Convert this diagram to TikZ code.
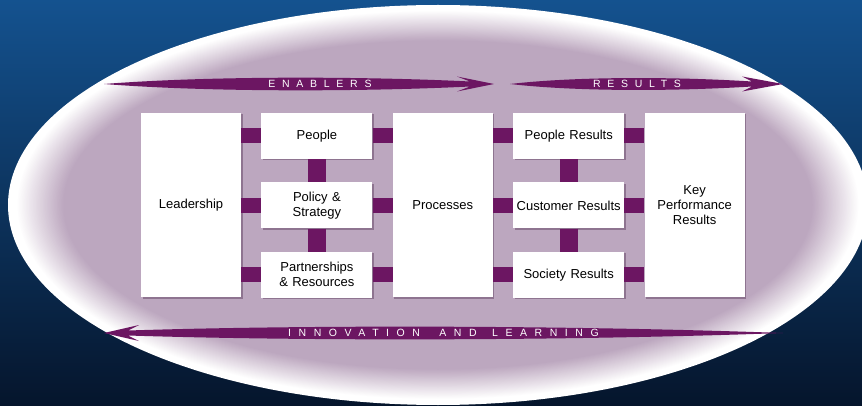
\documentclass[tikz,border=0pt]{standalone}
\usepackage{fontspec}
\setmainfont{Liberation Sans}
\newfontfamily\bandfont[LetterSpace=64]{Liberation Sans}
\newfontfamily\widebandfont[LetterSpace=72]{Liberation Sans}
\usetikzlibrary{positioning,shadows}
\definecolor{ovalpurple}{HTML}{BCA7BF}
\definecolor{bandpurple}{HTML}{6C1662}
\definecolor{topblue}{HTML}{14528F}
\definecolor{bottomblue}{HTML}{05152C}
\definecolor{shadowpurple}{HTML}{8E7490}

\begin{document}
\begin{tikzpicture}[x=1pt,y=-1pt,
    box/.style={fill=white,inner sep=1pt,align=center,font=\fontsize{13}{15}\selectfont,
        drop shadow={shadow xshift=1.5pt,shadow yshift=-1.5pt,fill=shadowpurple,opacity=1}},
    tallbox/.style={box,minimum height=184pt,text width=98pt},
    smallbox/.style={box,minimum height=46pt,text width=109pt},
    bar/.style={draw=bandpurple,line width=15pt},
    vbar/.style={draw=bandpurple,line width=18pt},
    bandtext/.style={text=white,font=\bandfont\fontsize{10.5}{10.5}\selectfont,inner sep=0pt},
    widebandtext/.style={bandtext,font=\widebandfont\fontsize{10.5}{10.5}\selectfont}]

    % background and glowing oval
    \useasboundingbox (0,0) rectangle (862,406);
    \shade[top color=topblue,bottom color=bottomblue] (0,0) rectangle (862,406);
    \foreach \k in {0,...,40} {
        \pgfmathtruncatemacro\p{max(0,min(100,3*(\k-6)))}
        \fill[ovalpurple!\p!white] (438,205) ellipse [x radius=430-1.4*\k, y radius=200-0.9*\k];
    }

    % boxes
    \node[tallbox] (lead) at (191,205) {Leadership};
    \node[smallbox,right=20pt of lead.north east,anchor=north west] (ppl) {People};
    \node[smallbox,below=23pt of ppl] (pol) {Policy \&\\ Strategy};
    \node[smallbox,below=23pt of pol] (part) {Partnerships\\ \& Resources};
    \node[tallbox,right=20pt of ppl.north east,anchor=north west] (proc) {Processes};
    \node[smallbox,right=20pt of proc.north east,anchor=north west] (pres) {People Results};
    \node[smallbox,below=23pt of pres] (cres) {Customer Results};
    \node[smallbox,below=23pt of cres] (sres) {Society Results};
    \node[tallbox,right=20pt of pres.north east,anchor=north west] (kpr) {Key\\ Performance\\ Results};

    % purple links
    \foreach \n in {ppl,pol,part} {
        \draw[bar] (lead.east |- \n.west) -- (\n.west);
        \draw[bar] (\n.east) -- (\n.east -| proc.west);
    }
    \foreach \n in {pres,cres,sres} {
        \draw[bar] (proc.east |- \n.west) -- (\n.west);
        \draw[bar] (\n.east) -- (\n.east -| kpr.west);
    }
    \draw[vbar] (ppl.south) -- (pol.north);
    \draw[vbar] (pol.south) -- (part.north);
    \draw[vbar] (pres.south) -- (cres.north);
    \draw[vbar] (cres.south) -- (sres.north);

    % band arrows
    \fill[bandpurple] (104,84) .. controls (220,75) and (380,77) .. (470,81.5) -- (457,76.5) -- (494,84)
        -- (457,91.5) -- (470,86.5) .. controls (380,91) and (220,93) .. (104,84) -- cycle;
    \fill[bandpurple] (510,84) .. controls (580,76) and (680,77) .. (752,81.5) -- (742,76.5) -- (783,84)
        -- (742,91.5) -- (752,86.5) .. controls (680,91) and (580,92) .. (510,84) -- cycle;
    \fill[bandpurple] (104,333) -- (139,325) -- (128,330.5) .. controls (300,325) and (560,325) .. (783,333)
        .. controls (560,341) and (300,341) .. (128,335.5) -- (139,341) -- cycle;

    \node[bandtext] (enab) at (320,84) {ENABLERS};
    \node[bandtext] (res) at (637,84) {RESULTS};
    \node[widebandtext,anchor=west] (inno) at (288,333) {INNOVATION};
    \node[widebandtext,right=19pt of inno] (and) {AND};
    \node[widebandtext,right=15pt of and] (learn) {LEARNING};
\end{tikzpicture}
\end{document}
